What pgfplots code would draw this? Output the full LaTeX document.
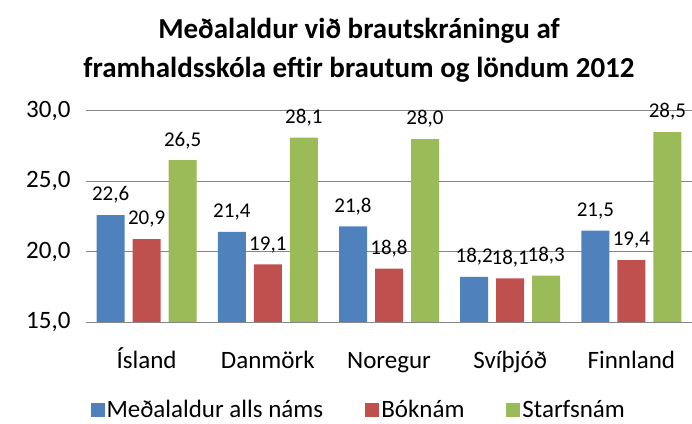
\documentclass[border=0pt]{standalone}
\usepackage{pgfplots}
\pgfplotsset{compat=1.18}
\usepackage{fontspec}
\setmainfont{Carlito}
\definecolor{cblue}{HTML}{4F81BD}
\definecolor{cred}{HTML}{C0504D}
\definecolor{cgreen}{HTML}{9BBB59}
\definecolor{cgrid}{RGB}{134,134,134}
\begin{document}
\begin{tikzpicture}
\path[use as bounding box] (-86pt,-101pt) rectangle (606pt,322pt);
\begin{axis}[
  at={(0,0)}, anchor=south west,
  scale only axis, width=606pt, height=211pt,
  ymin=15, ymax=30, xmin=-0.5, xmax=4.5,
  ytick={15,20,25,30},
  xtick={0,1,2,3,4},
  xticklabels={Ísland,Danmörk,Noregur,Svíþjóð,Finnland},
  ybar=8pt, bar width=28pt,
  axis line style={draw=none},
  ymajorgrids, grid style={cgrid, line width=1pt},
  major tick length=0pt,
  clip=false,
  /pgf/number format/assume math mode=true,
  yticklabel style={/pgf/number format/.cd, fixed, fixed zerofill, precision=1, use comma, /tikz/.cd, font=\fontsize{25}{28}\selectfont, xshift=-12pt},
  xticklabel style={font=\fontsize{25}{28}\selectfont, anchor=base, yshift=-46pt},
  nodes near coords,
  nodes near coords style={/pgf/number format/.cd, fixed, fixed zerofill, precision=1, use comma, /tikz/.cd, font=\fontsize{21}{24}\selectfont, yshift=8pt},
  legend style={at={(0.45,-0.417)}, anchor=center, draw=none, legend columns=3,
    font=\fontsize{25}{28}\selectfont, /tikz/every even column/.append style={column sep=40pt}},
  legend image code/.code={\fill[#1] (-5pt,-7pt) rectangle (9pt,7pt);},
]
\addplot[fill=cblue, draw=none] coordinates {(0,22.6) (1,21.4) (2,21.8) (3,18.2) (4,21.5)};
\addplot[fill=cred, draw=none] coordinates {(0,20.9) (1,19.1) (2,18.8) (3,18.1) (4,19.4)};
\addplot[fill=cgreen, draw=none] coordinates {(0,26.5) (1,28.1) (2,28.0) (3,18.3) (4,28.5)};
\legend{Meðalaldur alls náms, Bóknám, Starfsnám}
\draw[cgrid, line width=1pt] (axis cs:-0.5,15) -- (axis cs:4.5,15);
\end{axis}
\node[font=\bfseries\fontsize{29}{39}\selectfont, align=center] at (273pt,272pt) {Meðalaldur við brautskráningu af\\framhaldsskóla eftir brautum og löndum 2012};
\end{tikzpicture}
\end{document}
